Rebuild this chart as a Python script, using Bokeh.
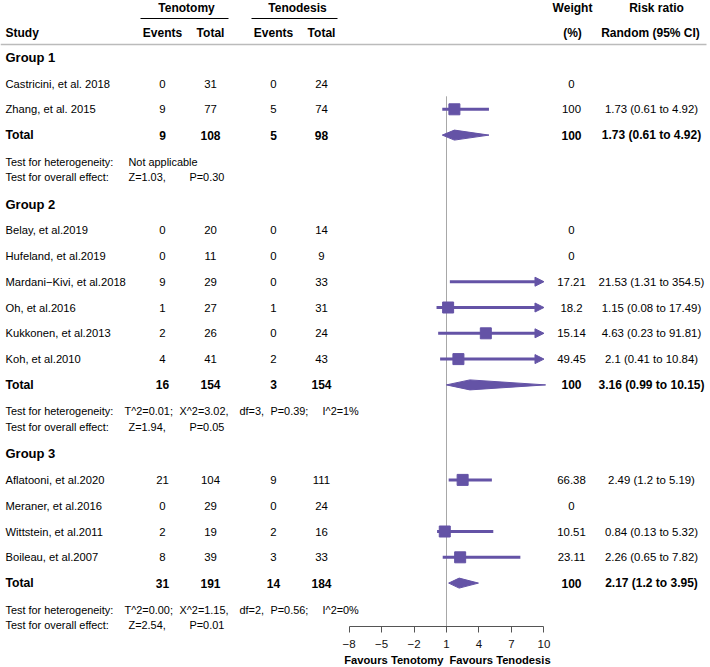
import math
from bokeh.plotting import figure
from bokeh.models import ColumnDataSource, Range1d, LinearAxis, FixedTicker, Arrow, NormalHead
from bokeh.embed import file_html
from bokeh.resources import INLINE
from bokeh.core.properties import value

# ---------------- data ----------------
group_names = ["Group 1", "Group 2", "Group 3"]
study = ["Castricini, et al. 2018", "Zhang, et al. 2015",
         "Belay, et al.2019", "Hufeland, et al.2019", "Mardani\u2212Kivi, et al.2018",
         "Oh, et al.2016", "Kukkonen, et al.2013", " Koh, et al.2010",
         "Aflatooni, et al.2020", "Meraner, et al.2016", "Wittstein, et al.2011",
         "Boileau, et al.2007"]
study_group = [0, 0, 1, 1, 1, 1, 1, 1, 2, 2, 2, 2]
ev_tenotomy = [0, 9, 0, 0, 9, 1, 2, 4, 21, 0, 2, 8]
n_tenotomy = [31, 77, 20, 11, 29, 27, 26, 41, 104, 29, 19, 39]
ev_tenodesis = [0, 5, 0, 0, 0, 1, 0, 2, 9, 0, 2, 3]
n_tenodesis = [24, 74, 14, 9, 33, 31, 24, 43, 111, 24, 16, 33]
weight = [0, 100, 0, 0, 17.21, 18.2, 15.14, 49.45, 66.38, 0, 10.51, 23.11]
rr = [None, 1.73, None, None, 21.53, 1.15, 4.63, 2.1, 2.49, None, 0.84, 2.26]
rr_lo = [None, 0.61, None, None, 1.31, 0.08, 0.23, 0.41, 1.2, None, 0.13, 0.65]
rr_hi = [None, 4.92, None, None, 354.5, 17.49, 91.81, 10.84, 5.19, None, 5.32, 7.82]

tot_ev_tenotomy = [9, 16, 31]
tot_n_tenotomy = [108, 154, 191]
tot_ev_tenodesis = [5, 3, 14]
tot_n_tenodesis = [98, 154, 184]
tot_weight = [100, 100, 100]
tot_rr = [1.73, 3.16, 2.17]
tot_lo = [0.61, 0.99, 1.2]
tot_hi = [4.92, 10.15, 3.95]

het_parts = [["Not applicable"],
             ["T^2=0.01;", "X^2=3.02,", "df=3,", "P=0.39;", "I^2=1%"],
             ["T^2=0.00;", "X^2=1.15,", "df=2,", "P=0.56;", "I^2=0%"]]
overall_parts = [["Z=1.03,", "P=0.30"], ["Z=1.94,", "P=0.05"], ["Z=2.54,", "P=0.01"]]

axis_ticks = [-8, -5, -2, 1, 4, 7, 10]
axis_bounds = (-8, 10)
null_rr = 1
label_left = "Favours Tenotomy"
label_right = "Favours Tenodesis"

# ---------------- layout / style ----------------
W, H = 710, 667
FONT = "Liberation Sans"
PURPLE = "#6453A6"
PX_PER_RR = 10.83
NULL_PX = 446


def rr_at(px):
    return null_rr + (px - NULL_PX) / PX_PER_RR


Y_H1, Y_H2, Y_ULINE, Y_HLINE = 7, 32, 18, 44
Y_GROUP1 = 57
GAP_GROUP_STUDY = 26
ROW = 25.8
GAP_TOTAL_HET = 26.5
GAP_HET_OV = 15.5
GAP_OV_GROUP = 27
Y_AXIS = 626
Y_FAV = 659

COL_STUDY = 5
COL_EV_T, COL_N_T, COL_EV_D, COL_N_D = 162, 210, 273, 321
COL_W, COL_RR = 571, 651
COL_HET = [124, 179, 239, 270, 322]
COL_HET_NA = 128
COL_OV = [128, 189]

p = figure(width=W, height=H,
           x_range=Range1d(rr_at(0), rr_at(W)),
           y_range=Range1d(H, 0),
           x_axis_type=None, y_axis_type=None,
           toolbar_location=None, output_backend="svg", min_border=0)
p.extra_x_ranges = {"tbl": Range1d(0, W)}
p.outline_line_color = None
p.background_fill_color = "white"
p.border_fill_color = "white"

# row positions
study_y = [None] * len(study)
group_y, total_y, het_y, ov_y = [], [], [], []
y = Y_GROUP1
for g in range(len(group_names)):
    group_y.append(y)
    y += GAP_GROUP_STUDY
    for i in range(len(study)):
        if study_group[i] == g:
            study_y[i] = y
            y += ROW
    total_y.append(y)
    y += GAP_TOTAL_HET
    het_y.append(y)
    y += GAP_HET_OV
    ov_y.append(y)
    y += GAP_OV_GROUP


def fmt(v):
    return format(v, "g")


def add_text(items, size, bold=False, align="left", color="#000000"):
    if not items:
        return
    xs, ys, ts = zip(*items)
    p.text(x=list(xs), y=list(ys), text=list(ts), x_range_name="tbl",
           text_font=value(FONT), text_font_size=size,
           text_font_style="bold" if bold else "normal",
           text_align=align, text_baseline="middle", text_color=color)


# header
add_text([(186, Y_H1, "Tenotomy"), (297, Y_H1, "Tenodesis"),
          (COL_EV_T, Y_H2, "Events"), (COL_N_T, Y_H2, "Total"),
          (COL_EV_D, Y_H2, "Events"), (COL_N_D, Y_H2, "Total"),
          (572, Y_H1, "Weight"), (572, Y_H2, "(%)"),
          (656, Y_H1, "Risk ratio"), (650, Y_H2, "Random (95% CI)")],
         "12px", bold=True, align="center")
add_text([(COL_STUDY, Y_H2, "Study")], "12px", bold=True)
p.segment(x0=[140, 251], y0=[Y_ULINE] * 2, x1=[228, 337], y1=[Y_ULINE] * 2,
          x_range_name="tbl", line_color="#000000", line_width=1)
p.segment(x0=[0], y0=[Y_HLINE], x1=[706], y1=[Y_HLINE],
          x_range_name="tbl", line_color="#BBBBBB", line_width=1.5)

# group titles
add_text([(COL_STUDY, group_y[g], group_names[g]) for g in range(len(group_names))],
         "13px", bold=True)

# study rows
add_text([(COL_STUDY, study_y[i], study[i]) for i in range(len(study))], "11.2px")
num_items = []
for i in range(len(study)):
    yy = study_y[i]
    num_items += [(COL_EV_T, yy, str(ev_tenotomy[i])), (COL_N_T, yy, str(n_tenotomy[i])),
                  (COL_EV_D, yy, str(ev_tenodesis[i])), (COL_N_D, yy, str(n_tenodesis[i])),
                  (COL_W, yy, fmt(weight[i]))]
    if rr[i] is not None:
        num_items.append((COL_RR, yy, f"{fmt(rr[i])} ({fmt(rr_lo[i])} to {fmt(rr_hi[i])})"))
add_text(num_items, "11.4px", align="center")

# totals
add_text([(COL_STUDY, total_y[g], "Total") for g in range(len(group_names))], "12.2px", bold=True)
tot_items = []
for g in range(len(group_names)):
    yy = total_y[g]
    tot_items += [(COL_EV_T, yy, str(tot_ev_tenotomy[g])), (COL_N_T, yy, str(tot_n_tenotomy[g])),
                  (COL_EV_D, yy, str(tot_ev_tenodesis[g])), (COL_N_D, yy, str(tot_n_tenodesis[g])),
                  (COL_W, yy, fmt(tot_weight[g])),
                  (COL_RR, yy, f"{fmt(tot_rr[g])} ({fmt(tot_lo[g])} to {fmt(tot_hi[g])})")]
add_text(tot_items, "12px", bold=True, align="center")

# heterogeneity / overall effect
het_items = []
for g in range(len(group_names)):
    het_items.append((COL_STUDY, het_y[g], "Test for heterogeneity:"))
    het_items.append((COL_STUDY, ov_y[g], "Test for overall effect:"))
    parts = het_parts[g]
    cols = [COL_HET_NA] if len(parts) == 1 else COL_HET
    for c, t in zip(cols, parts):
        het_items.append((c, het_y[g], t))
    for c, t in zip(COL_OV, overall_parts[g]):
        het_items.append((c, ov_y[g], t))
add_text(het_items, "10.9px")

# reference line
first_ci_y = min(study_y[i] for i in range(len(study)) if rr[i] is not None)
p.segment(x0=[null_rr], y0=[first_ci_y - 13], x1=[null_rr], y1=[Y_AXIS],
          line_color="#A8A8A8", line_width=1)

# study CIs
seg = dict(x0=[], x1=[], y=[])
arr = dict(x0=[], x1=[], y=[])
sq = dict(x=[], y=[])
for i in range(len(study)):
    if rr[i] is None:
        continue
    lo = max(rr_lo[i], axis_bounds[0])
    if rr_hi[i] > axis_bounds[1]:
        arr["x0"].append(lo); arr["x1"].append(axis_bounds[1]); arr["y"].append(study_y[i])
    else:
        seg["x0"].append(lo); seg["x1"].append(rr_hi[i]); seg["y"].append(study_y[i])
    if axis_bounds[0] <= rr[i] <= axis_bounds[1]:
        sq["x"].append(rr[i]); sq["y"].append(study_y[i])

p.segment(x0=seg["x0"], y0=seg["y"], x1=seg["x1"], y1=seg["y"],
          line_color=PURPLE, line_width=3)
asrc = ColumnDataSource(arr)
p.add_layout(Arrow(source=asrc, x_start="x0", y_start="y", x_end="x1", y_end="y",
                   line_color=PURPLE, line_width=3,
                   end=NormalHead(size=9, fill_color=PURPLE, line_color=PURPLE, line_width=1)))
p.scatter(x=sq["x"], y=sq["y"], marker="square", size=11,
          fill_color=PURPLE, line_color=PURPLE)

# diamonds
DH = 5
xs, ys = [], []
for g in range(len(group_names)):
    xs.append([tot_lo[g], tot_rr[g], tot_hi[g], tot_rr[g]])
    ys.append([total_y[g], total_y[g] - DH, total_y[g], total_y[g] + DH])
p.patches(xs=xs, ys=ys, fill_color=PURPLE, line_color=PURPLE, line_width=1)

# axis
ax = LinearAxis(fixed_location=Y_AXIS, bounds=axis_bounds,
                ticker=FixedTicker(ticks=axis_ticks))
ax.axis_line_color = "#555555"
ax.major_tick_line_color = "#555555"
ax.minor_tick_line_color = None
ax.major_tick_in = 0
ax.major_tick_out = 6
ax.major_label_standoff = 7
ax.major_label_text_font = FONT
ax.major_label_text_font_size = "11.5px"
ax.major_label_text_color = "#111111"
ax.major_label_overrides = {t: (("\u2212" + str(-t)) if t < 0 else str(t)) for t in axis_ticks}
p.add_layout(ax, "below")

add_text([(443, Y_FAV, label_left)], "11.2px", bold=True, align="right")
add_text([(449, Y_FAV, label_right)], "11.2px", bold=True, align="left")

open("out.html", "w").write(file_html(p, INLINE))
